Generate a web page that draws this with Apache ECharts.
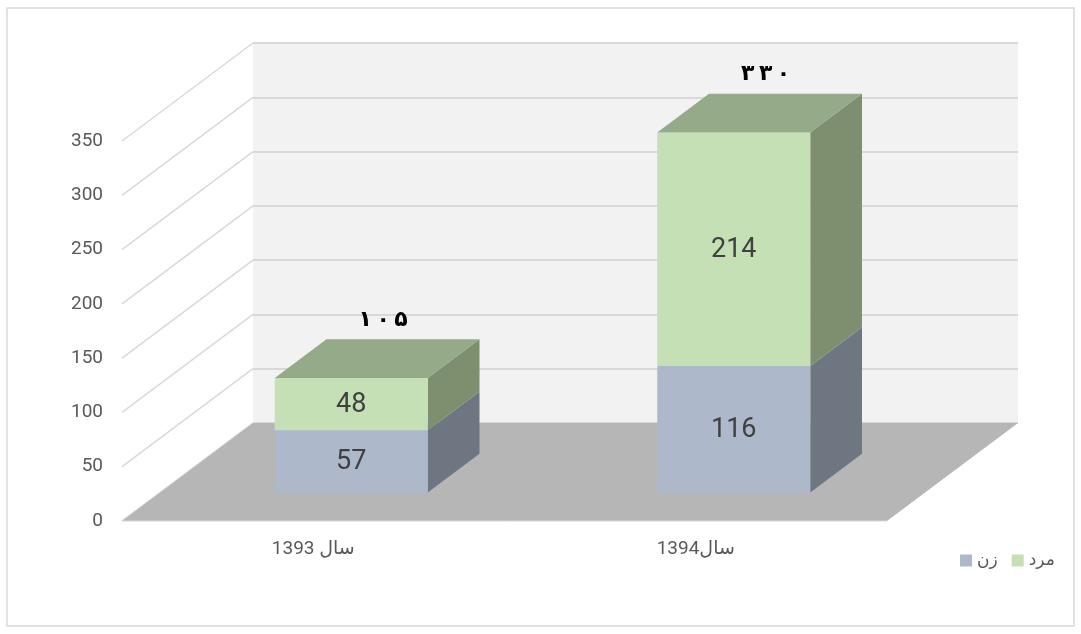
<!DOCTYPE html>
<html>
<head>
<meta charset="utf-8">
<script src="https://cdn.jsdelivr.net/npm/echarts@6/dist/echarts.min.js"></script>
<style>
  html, body { margin: 0; padding: 0; background: #fff; }
  #chart { width: 1081px; height: 634px; }
</style>
</head>
<body>
<div id="chart"></div>
<script>
const categories = ['1393 سال', '1394سال']
const women = [57, 116]
const men = [48, 214]
const yTicks = [0, 50, 100, 150, 200, 250, 300, 350]
const seriesNames = ['زن', 'مرد']

const FONT = 'Roboto, "DejaVu Sans", sans-serif'
// fake 3d projection: depth vector of the floor, bar plane and bar thickness as fractions of it
const DEPTH = [131, -98]
const BAR_SHIFT = 0.29
const BAR_DEPTH = 0.395
const front = { left: 122, top: 141, width: 765, height: 380 }
const back = { left: front.left + DEPTH[0], top: front.top + DEPTH[1], width: front.width, height: front.height }
const barPlane = {
  left: front.left + DEPTH[0] * BAR_SHIFT,
  top: front.top + front.height + DEPTH[1] * BAR_SHIFT - 382,
  width: front.width,
  height: 382,
}

function toFa(n) {
  return String(n).replace(/\d/g, (d) => '۰۱۲۳۴۵۶۷۸۹'[d])
}

function hiddenAxis(type, gridIndex) {
  return { type, gridIndex, show: false, min: type === 'value' ? 0 : undefined, max: type === 'value' ? 350 : undefined }
}

function barRenderer(fill, side, topFill, isTop) {
  return function (params, api) {
    const i = api.value(0)
    const lo = api.coord([i, api.value(1)])
    const hi = api.coord([i, api.value(2)])
    const w = api.size([1, 0])[0] * 0.4
    const dx = DEPTH[0] * BAR_DEPTH
    const dy = DEPTH[1] * BAR_DEPTH
    const xl = lo[0] - w / 2
    const xr = lo[0] + w / 2
    const children = [
      {
        type: 'polygon',
        shape: { points: [[xr, lo[1]], [xr + dx, lo[1] + dy], [xr + dx, hi[1] + dy], [xr, hi[1]]] },
        style: { fill: side },
      },
      {
        type: 'rect',
        shape: { x: xl, y: hi[1], width: w, height: lo[1] - hi[1] },
        style: { fill: fill },
      },
      {
        type: 'text',
        style: {
          text: String(api.value(2) - api.value(1)),
          x: lo[0], y: (lo[1] + hi[1]) / 2 + 1,
          align: 'center', verticalAlign: 'middle',
          fontSize: 27, fontFamily: FONT, fill: '#404040',
        },
      },
    ]
    if (isTop) {
      children.push({
        type: 'polygon',
        shape: { points: [[xl, hi[1]], [xl + dx, hi[1] + dy], [xr + dx, hi[1] + dy], [xr, hi[1]]] },
        style: { fill: topFill },
      })
      children.push({
        type: 'text',
        style: {
          text: toFa(api.value(2)).split('').join('\u2009'),
          x: lo[0] + dx / 2 + 6, y: hi[1] + dy - 19,
          align: 'center', verticalAlign: 'middle',
          fontSize: 22, fontWeight: 'bold', fontFamily: '"DejaVu Sans", sans-serif', fill: '#000',
        },
      })
    }
    return { type: 'group', children }
  }
}

const chart = echarts.init(document.getElementById('chart'))

chart.setOption({
  animation: false,
  grid: [
    { ...back, show: true, backgroundColor: '#f2f2f2', borderWidth: 0 },
    { ...front },
    { ...barPlane },
  ],
  xAxis: [
    hiddenAxis('category', 0),
    {
      type: 'category',
      gridIndex: 1,
      data: categories,
      axisLine: { show: false },
      axisTick: { show: false },
      axisLabel: { margin: 19, fontSize: 19, color: '#595959', fontFamily: FONT },
    },
    hiddenAxis('category', 2),
  ],
  yAxis: [
    {
      type: 'value',
      gridIndex: 0,
      min: 0,
      max: 350,
      interval: 50,
      axisLine: { show: false },
      axisTick: { show: false },
      axisLabel: { show: false },
      splitLine: { lineStyle: { color: '#d9d9d9', width: 2 } },
    },
    {
      type: 'value',
      gridIndex: 1,
      min: 0,
      max: 350,
      interval: 50,
      axisLine: { show: false },
      axisTick: { show: false },
      splitLine: { show: false },
      axisLabel: { margin: 19, fontSize: 19, color: '#595959', fontFamily: FONT },
    },
    hiddenAxis('value', 2),
  ],
  legend: {
    data: seriesNames,
    left: 955,
    top: 547,
    icon: 'rect',
    itemWidth: 12,
    itemHeight: 12,
    itemGap: 14,
    selectedMode: false,
    textStyle: { fontSize: 17, color: '#595959', fontFamily: FONT },
  },
  graphic: [
    {
      type: 'rect',
      z: -10,
      shape: { x: 7, y: 8, width: 1067, height: 618 },
      style: { fill: null, stroke: '#d9d9d9', lineWidth: 1.5 },
    },
  ],
  series: [
    {
      // side wall grid lines
      type: 'custom',
      xAxisIndex: 1,
      yAxisIndex: 1,
      silent: true,
      data: yTicks.map((v) => [0, v]),
      renderItem: (params, api) => {
        const p = api.coord([0, api.value(1)])
        const x0 = params.coordSys.x
        return {
          type: 'line',
          shape: { x1: x0, y1: p[1], x2: x0 + DEPTH[0], y2: p[1] + DEPTH[1] },
          style: { stroke: '#d9d9d9', lineWidth: 1.5 },
        }
      },
    },
    {
      // floor
      type: 'custom',
      xAxisIndex: 1,
      yAxisIndex: 1,
      silent: true,
      data: [[0, 0]],
      renderItem: (params) => {
        const c = params.coordSys
        const yb = c.y + c.height
        return {
          type: 'group',
          children: [
            {
              type: 'polygon',
              shape: { points: [[c.x, yb], [c.x + DEPTH[0], yb + DEPTH[1]], [c.x + c.width + DEPTH[0], yb + DEPTH[1]], [c.x + c.width, yb]] },
              style: { fill: '#b6b6b6' },
            },
            {
              type: 'line',
              shape: { x1: c.x, y1: yb, x2: c.x + c.width, y2: yb },
              style: { stroke: '#d9d9d9', lineWidth: 1 },
            },
          ],
        }
      },
    },
    {
      name: seriesNames[0],
      type: 'custom',
      xAxisIndex: 2,
      yAxisIndex: 2,
      itemStyle: { color: '#adb9ca' },
      data: women.map((v, i) => [i, 0, v]),
      renderItem: barRenderer('#adb9ca', '#6e7681', '#8a96a6', false),
    },
    {
      name: seriesNames[1],
      type: 'custom',
      xAxisIndex: 2,
      yAxisIndex: 2,
      itemStyle: { color: '#c5e0b4' },
      data: men.map((v, i) => [i, women[i], women[i] + v]),
      renderItem: barRenderer('#c5e0b4', '#7e8f6f', '#95aa88', true),
    },
  ],
})
</script>
</body>
</html>
